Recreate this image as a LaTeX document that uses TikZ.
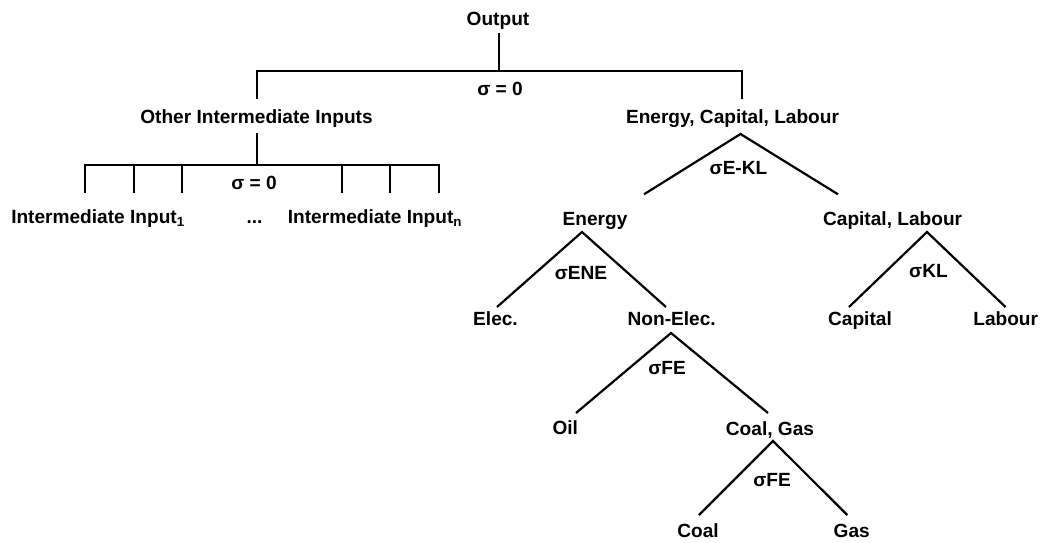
\documentclass[tikz,border=0pt]{standalone}
\usepackage{fontspec}
\setmainfont{Liberation Sans}
\begin{document}
\begin{tikzpicture}[x=1pt,y=-1pt,
  lbl/.style={font=\bfseries\fontsize{19.1}{21}\selectfont, inner sep=0pt, anchor=base},
  edge/.style={line width=2.2pt, line cap=butt, line join=miter}]
\useasboundingbox (0,0) rectangle (1045,542);
% labels
\node[lbl] (out) at (498,25) {Output};
\node[lbl] (s0a) at (500,95) {σ = 0};
\node[lbl] (oii) at (256.5,123) {Other Intermediate Inputs};
\node[lbl] (ecl) at (732.5,123) {Energy, Capital, Labour};
\node[lbl] (s0b) at (254,189) {σ = 0};
\node[lbl] (ii1) at (98,223) {Intermediate Input\textsubscript{1}};
\node[lbl] (dots) at (254.5,223) {...};
\node[lbl] (iin) at (375,223) {Intermediate Input\textsubscript{n}};
\node[lbl] (sekl) at (738.5,174.5) {σE-KL};
\node[lbl] (en) at (595,225) {Energy};
\node[lbl] (cl) at (892.6,225) {Capital, Labour};
\node[lbl] (sene) at (581,279) {σENE};
\node[lbl] (skl) at (928.5,277) {σKL};
\node[lbl] (el) at (495.5,325) {Elec.};
\node[lbl] (nel) at (671.7,325) {Non-Elec.};
\node[lbl] (cap) at (860,325) {Capital};
\node[lbl] (lab) at (1005.7,325) {Labour};
\node[lbl] (sfe) at (667,374) {σFE};
\node[lbl] (oil) at (565.3,434) {Oil};
\node[lbl] (cg) at (770,435) {Coal, Gas};
\node[lbl] (sfe2) at (772,486.5) {σFE};
\node[lbl] (coal) at (698,537) {Coal};
\node[lbl] (gas) at (851.7,537) {Gas};
% coordinates for connectors
\coordinate (o1) at (499,33);
\coordinate (o2) at (499,71);
\coordinate (hl) at (257,71);
\coordinate (hr) at (742,71);
\coordinate (hlb) at (257,99);
\coordinate (hrb) at (742,99);
\coordinate (l1) at (257,133);
\coordinate (l2) at (257,165);
\foreach \x [count=\i] in {85,134,182,342,390,438.7}{
  \coordinate (t\i) at (\x,165);
  \coordinate (b\i) at (\x,193);
}
\coordinate (ecla) at (740.5,134);
\coordinate (ecll) at (644,194.3);
\coordinate (eclr) at (838,194.3);
\coordinate (ena) at (582,232);
\coordinate (enl) at (497,307);
\coordinate (enr) at (666,307);
\coordinate (cla) at (927,232);
\coordinate (cll) at (849,307);
\coordinate (clr) at (1005.5,307);
\coordinate (nea) at (671,333);
\coordinate (nel-l) at (576,413);
\coordinate (nel-r) at (768,413);
\coordinate (cga) at (773,441);
\coordinate (cgl) at (699,515);
\coordinate (cgr) at (847.3,515);
% connectors
\draw[edge] (o1) -- (o2);
\draw[edge] (hlb) -- (hl) -- (hr) -- (hrb);
\draw[edge] (l1) -- (l2);
\draw[edge] (b1) -- (t1) -- (t6) -- (b6);
\foreach \i in {2,3,4,5}{ \draw[edge] (t\i) -- (b\i); }
\draw[edge] (ecll) -- (ecla) -- (eclr);
\draw[edge] (enl) -- (ena) -- (enr);
\draw[edge] (cll) -- (cla) -- (clr);
\draw[edge] (nel-l) -- (nea) -- (nel-r);
\draw[edge] (cgl) -- (cga) -- (cgr);
\end{tikzpicture}
\end{document}
